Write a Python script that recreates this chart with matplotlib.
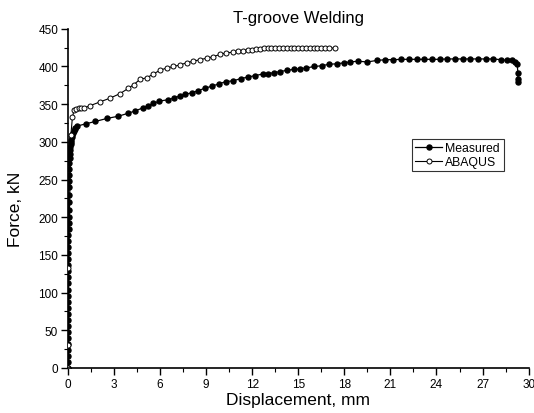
import matplotlib
matplotlib.use("Agg")
import matplotlib.pyplot as plt
from matplotlib.ticker import MultipleLocator

plt.rcParams["font.family"] = ["Liberation Sans", "DejaVu Sans"]

# Measured: load-displacement
meas_disp = [0.0, 0.002, 0.004, 0.006, 0.008, 0.01, 0.012, 0.014, 0.016, 0.018,
             0.02, 0.022, 0.024, 0.026, 0.028, 0.03, 0.032, 0.034, 0.036, 0.038,
             0.04, 0.042, 0.044, 0.046, 0.048, 0.05, 0.055, 0.06, 0.065, 0.07,
             0.075, 0.08, 0.09, 0.1, 0.11, 0.12, 0.14, 0.16, 0.18, 0.2,
             0.23, 0.26, 0.3, 0.35, 0.4, 0.45, 0.5, 0.62,
             1.19, 1.78, 2.54, 3.29, 3.94, 4.38, 4.88, 5.24, 5.56, 5.96,
             6.55, 6.9, 7.3, 7.6, 8.07, 8.5, 8.9, 9.4, 9.84, 10.3, 10.78,
             11.26, 11.75, 12.2, 12.7, 13.0, 13.4, 13.8, 14.25, 14.7, 15.1,
             15.5, 16.05, 16.55, 17.0, 17.5, 18.0, 18.4, 18.87, 19.5, 20.1,
             20.67, 21.2, 21.7, 22.2, 22.7, 23.2, 23.7, 24.2, 24.7, 25.2,
             25.7, 26.2, 26.7, 27.2, 27.7, 28.2, 28.6, 28.9, 29.1, 29.25,
             29.3, 29.3, 29.3]
meas_force = [0, 8, 16, 24, 32, 40, 48, 56, 64, 72,
              80, 88, 96, 104, 112, 120, 128, 136, 144, 152,
              160, 168, 176, 184, 192, 200, 210, 220, 230, 240,
              248, 256, 264, 272, 278, 284, 289, 293, 297, 300,
              303, 306, 309, 312, 315, 317, 319, 321,
              324, 327, 331, 334, 338, 341, 345, 348, 351, 354,
              356, 358, 361, 363, 365, 368, 371, 374, 377, 380, 381,
              384, 386, 388, 390, 390, 392, 393, 395, 396, 397,
              398, 400, 401, 403, 403.5, 405, 406, 407, 406, 408,
              409, 409, 409.5, 409.5, 409.5, 409.5, 409.5, 409.5, 410, 410,
              410, 410, 410, 410, 410, 409, 408, 408, 406, 403,
              392, 384, 380]

# ABAQUS: FE prediction
fe_disp = [0.0, 0.02, 0.04, 0.2, 0.3, 0.41, 0.55, 0.7, 0.88, 1.07,
           1.45, 2.1, 2.75, 3.4, 3.94, 4.3, 4.7, 5.14, 5.57, 6.0,
           6.44, 6.87, 7.3, 7.74, 8.17, 8.6, 9.04, 9.47, 9.9, 10.3,
           10.78, 11.1, 11.4, 11.7, 12.0, 12.25, 12.5, 12.75, 13.0, 13.25,
           13.5, 13.75, 14.0, 14.25, 14.5, 14.75, 15.0, 15.25, 15.5, 15.75,
           16.0, 16.25, 16.5, 16.75, 17.0, 17.4]
fe_force = [0, 30, 133, 309, 333, 342, 344, 345, 345, 345,
            348, 353, 358, 364, 371, 376, 383, 385, 390, 395,
            398, 400, 402, 405, 407, 409, 411, 413, 416, 418,
            419, 420, 421, 422, 422.5, 423, 423.5, 424, 424, 424.3,
            424.4, 424.4, 424.4, 424.4, 424.4, 424.4, 424.4, 424.4, 424.4, 424.4,
            424.4, 424.4, 424.4, 424.4, 424.4, 424.4]

fig = plt.figure(figsize=(5.34, 4.14), dpi=100)
ax = fig.add_axes([0.127, 0.109, 0.863, 0.819])

ax.plot(meas_disp, meas_force, color="black", lw=0.9, marker="o",
        markersize=3.6, markerfacecolor="black", label="Measured")
ax.plot(fe_disp, fe_force, color="black", lw=0.8, marker="o",
        markersize=3.6, markerfacecolor="white", markeredgewidth=0.7,
        label="ABAQUS")

ax.set_xlim(0, 30)
ax.set_ylim(0, 450)
ax.xaxis.set_major_locator(MultipleLocator(3))
ax.xaxis.set_minor_locator(MultipleLocator(1.5))
ax.yaxis.set_major_locator(MultipleLocator(50))
ax.yaxis.set_minor_locator(MultipleLocator(25))
ax.tick_params(which="major", direction="out", length=5, width=1,
               labelsize=8.5, pad=2)
ax.tick_params(which="minor", direction="out", length=3, width=0.8)

for side in ("top", "right"):
    ax.spines[side].set_visible(False)
for side in ("left", "bottom"):
    ax.spines[side].set_linewidth(1.2)
ax.spines["left"].set_zorder(0)

ax.set_xlabel("Displacement, mm", fontsize=12.5, labelpad=2)
ax.set_ylabel("Force, kN", fontsize=12.5)
ax.yaxis.set_label_coords(-0.097, 0.469)
ax.set_title("T-groove Welding", fontsize=12, pad=5)

leg = ax.legend(loc="lower left", bbox_to_anchor=(0.747, 0.58, 0.2, 0.1),
                mode="expand", fontsize=8.8, frameon=True, fancybox=False,
                edgecolor="black", borderpad=0.25, handlelength=2.2,
                handletextpad=0.25, labelspacing=0.15, borderaxespad=0)
leg.get_frame().set_linewidth(0.8)

fig.savefig("out.png", dpi=100)
